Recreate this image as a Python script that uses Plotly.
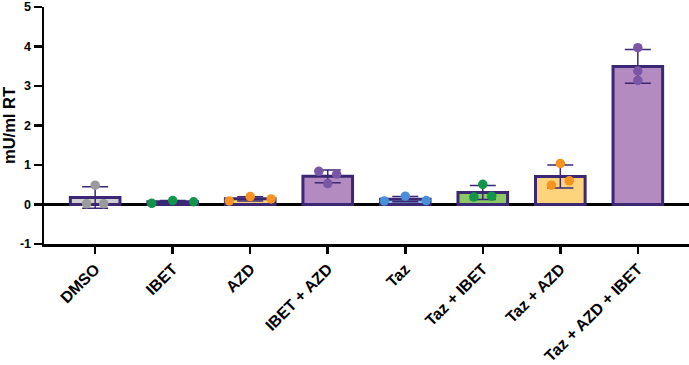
import numpy as np
import plotly.graph_objects as go

categories = ["DMSO", "IBET", "AZD", "IBET + AZD", "Taz", "Taz + IBET", "Taz + AZD", "Taz + AZD + IBET"]

dmso = [0.02, 0.49, 0.02]
ibet = [0.03, 0.10, 0.07]
azd = [0.09, 0.20, 0.14]
ibet_azd = [0.84, 0.53, 0.77]
taz = [0.09, 0.21, 0.10]
taz_ibet = [0.19, 0.51, 0.21]
taz_azd = [0.49, 1.04, 0.60]
taz_azd_ibet = [3.97, 3.38, 3.14]

groups = [dmso, ibet, azd, ibet_azd, taz, taz_ibet, taz_azd, taz_azd_ibet]

y_ticks = [-1, 0, 1, 2, 3, 4, 5]

# styles
outline = "#3b2774"
bar_fill = ["#cfcfcf", "#8cc866", "#fdd47c", "#b38bc0", "#8fbbe8", "#8cc866", "#fdd47c", "#b38bc0"]
dot_color = ["#9b9b9b", "#12944a", "#f7931e", "#7b56a6", "#4a90d9", "#12944a", "#f7931e", "#7b56a6"]
spread = [0.11, 0.27, 0.27, 0.115, 0.27, 0.115, 0.115, 0.0]

idx = list(range(len(categories)))
means = [float(np.mean(g)) for g in groups]
sds = [float(np.std(g, ddof=1)) for g in groups]

fig = go.Figure()
fig.add_trace(go.Bar(
    x=idx, y=means, width=0.64,
    marker=dict(color=bar_fill, line=dict(color=outline, width=3)),
    error_y=dict(type="data", array=sds, arrayminus=sds, symmetric=False,
                 color=outline, thickness=1.5, width=13),
    showlegend=False, hoverinfo="skip",
))

for i, g in enumerate(groups):
    s = spread[i]
    xs = [i - s, i, i + s]
    fig.add_trace(go.Scatter(
        x=xs, y=g, mode="markers",
        marker=dict(color=dot_color[i], size=9.5, line=dict(width=0)),
        showlegend=False,
    ))

font_family = "Liberation Sans, Arial, sans-serif"

fig.update_layout(
    width=689, height=365,
    margin=dict(l=44, r=0, t=7, b=121, autoexpand=False),
    paper_bgcolor="white", plot_bgcolor="white",
    font=dict(family=font_family, color="black"),
    bargap=0,
)
fig.update_xaxes(
    range=[-0.66, 7.66],
    tickmode="array", tickvals=idx, ticktext=[f"<b>{c}</b>" for c in categories],
    tickangle=-45, tickfont=dict(size=16, family=font_family, color="black"),
    ticks="outside", ticklen=7, tickwidth=2.5, tickcolor="black",
    showline=True, linecolor="black", linewidth=2.5,
    showgrid=False, zeroline=False, ticklabeloverflow="allow",
)
fig.update_yaxes(
    range=[-1, 5],
    tickmode="array", tickvals=y_ticks, ticktext=[f"<b>{v}</b>" for v in y_ticks],
    tickfont=dict(size=12.5, family=font_family, color="black"),
    ticks="outside", ticklen=8, tickwidth=2.5, tickcolor="black",
    showline=True, linecolor="black", linewidth=2.5,
    showgrid=False, zeroline=True, zerolinecolor="black", zerolinewidth=2.5,
    ticklabeloverflow="allow",
    title=dict(text="<b>mU/ml RT</b>", font=dict(size=16.5, family=font_family), standoff=4),
)

fig.write_html(
    "out.html",
    config={"displayModeBar": False, "staticPlot": True},
    post_script="document.body.style.margin='0';document.body.style.overflow='hidden';",
)
